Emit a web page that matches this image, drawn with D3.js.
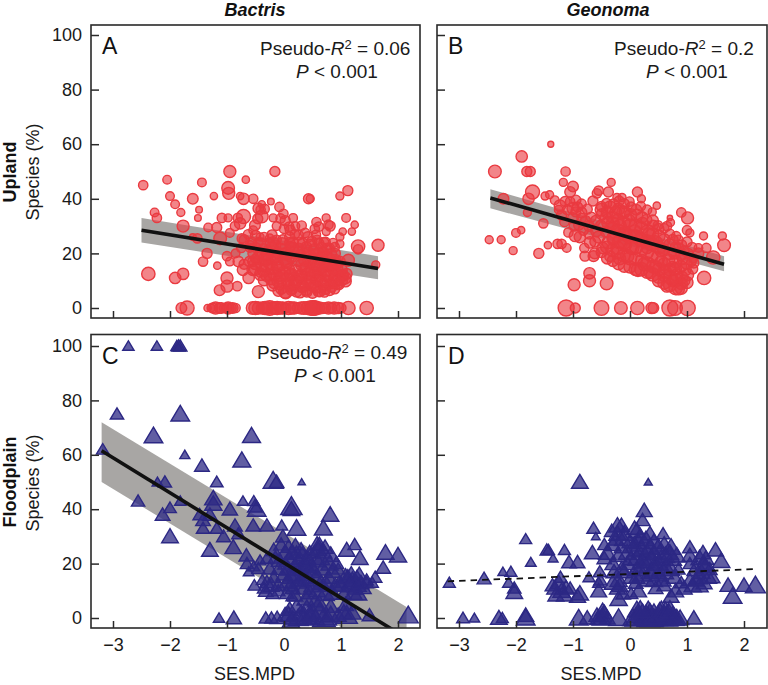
<!DOCTYPE html>
<html><head><meta charset="utf-8">
<script src="https://cdn.jsdelivr.net/npm/d3@7"></script>
<style>html,body{margin:0;padding:0;background:#fff}svg{display:block;font-family:"Liberation Sans",Arial,sans-serif}</style>
</head><body><svg id="c" width="768" height="685"></svg>
<script>
const yTicks=[0,20,40,60,80,100];
const xTicks=[-3,-2,-1,0,1,2];
const columns=["Bactris","Geonoma"];
const rows=["Upland","Floodplain"];
// each point: [SES.MPD, species %, plot weight]
const pointsA=[[-2.47,45,14],[-2.05,47,13],[-1.44,46,13],[-.67,47,11],[-.95,50,18],[-.16,50,15],[-2,41,13],[-1.91,38,13],[-1.6,40,16],[-1.23,41,11],[-.98,44,19],[-.97,42,18],[-1.81,35,12],[-2.27,35,13],[-2.23,33,14],[-1.49,36,10],[-1.51,33,10],[-1.77,30,18],[-1.6,26,10],[-1.52,25.5,14],[-1.35,20,15],[-1.42,17,14],[-1.17,15.5,11],[-2.38,12.5,20],[-1.91,11,17],[-1.77,12.5,17],[-1,11,18],[-1,8,18],[-1.13,6.5,16],[-.82,8,14],[-.45,6,18],[.98,41,12],[1.12,43,15],[.43,40,15],[.46,40,12],[1.09,33,13],[1.24,30.5,11],[1.19,28,11],[1.03,28,11],[.98,26,12],[.98,23.5,12],[1.3,22.5,20],[1.3,21.5,14],[1.65,23,18],[1.61,15.8,12],[1.13,17.5,18],[1.07,11,18],
[-.77,41,11],[-.71,40,17],[-.54,40,14],[-.39,38,11],[-.23,39,10],[-.08,37,14],[-.45,36.5,16],[-.71,33.5,21],[-.39,33.5,19],[-1.09,33,14],[-.98,33,12],[-.77,31,17],[-.19,33,12],[-.01,34.5,14],[.16,33,13],[.02,32,15],[.54,29,14],[.57,31.5,14],[.74,33,12],[.81,30,15],[.78,30.5,14],[.74,28,12],[-.54,28.5,13],[-.13,30,13],[-1.33,29.5,13],[-1.18,29.5,15],[-.95,27.5,13],[-1.12,25.5,19],[-.74,25.5,14],[-.42,26,12],[-.25,25.5,13],[-.13,25,14],[.11,28.5,15],[.37,27.5,14],[.19,27,14],[-1.0,19,14],[-.95,17,13],[-.85,20,13],[-.8,17,16],[-.75,22,14],[-.7,25,15],[-.55,17,15],[-.6,22,13],[-.45,24,14],[-.35,26,14],[-.25,24,14],[0,29,14],[.1,24,15],[.2,30,13],
[-.6,17,16],[-.72,14,17],[-.7,16,15],[-.62,11,17],[-.55,14,17],[-.5,18,14],[-.42,13,14],[-.35,18,17],[-.3,15,17],[-.28,21,15],[-.25,12,17],[-.2,18,19],[-.18,9,15],[-.15,23,16],[-.12,15,18],[-.1,20,17],[-.08,11,18],[-.05,7,16],[-.02,25,15],[0,13,19],[.02,6,20],[.04,17,17],[.06,20,18],[.08,9,17],[.1,26,15],[.12,12,18],[.15,7,15],[.16,22,17],[.2,10,19],[.22,6,16],[.25,17,15],[.27,24,16],[.3,12,17],[.33,8,18],[.35,20,15],[.38,15,16],[.4,6,16],[.42,26,16],[.45,11,18],[.47,23,17],[.5,18,16],[.52,8,17],[.55,13,18],[.58,25,14],[.6,6,15],[.62,20,16],[.65,10,17],[.68,15,18],[.7,24,15],[.72,7,16],[.75,19,15],[.78,12,18],[.8,22,14],[.82,9,16],[.85,16,17],[.88,11,17],[.9,20,15],[.93,14,18],[.95,9,15],[.98,17,16],[1.03,12,17],
[-1.8,0,16],[-1.7,0,21],[-1.34,0,11],[-1.25,0,15],[-1.2,0,18],[-1.13,0,16],[-1.05,0,14],[-.98,0,18],[-.9,0,16],[-.85,0,14],[-.55,0,19],[-.45,0,18],[-.3,0,19],[-.25,0,22],[-.2,0,19],[-.12,0,20],[-.02,0,18],[.08,0,20],[.18,0,18],[.35,0,19],[.42,0,20],[.5,0,22],[.55,0,21],[.6,0,19],[.78,0,18],[.88,0,18],[.95,0,17],[1.13,0,20],[1.45,0,20],
[-.1,6.2,16],[.03,5.6,18],[.13,6.4,15],[.28,5.8,17],[.39,6.6,16],[.5,5.5,16],[.63,6.2,17],[.71,5.8,15],[.8,6.5,16],[.89,7,15],[-.2,8.3,17],[-.06,8.8,18],[.1,8,16],[.19,8.6,18],[.31,7.8,17],[.46,8.5,16],[.56,7.7,18],[.69,8.4,17],[.83,8,18],[.96,8.6,16],[-.35,10.2,17],[-.23,10.7,18],[-.11,9.7,17],[.06,10.5,19],[.21,10,18],[.3,10.8,17],[.43,9.6,19],[.58,10.4,18],[.73,10,18],[.88,9.5,17],[1.01,10.3,18],[1.08,9.8,17],[-.41,12.3,18],[-.31,11.7,16],[-.16,12.5,19],[-.03,11.8,18],[.13,12.4,18],[.26,11.6,17],[.41,12.5,18],[.51,11.8,18],[.63,12.3,19],[.76,11.7,18],[.91,12.4,17],[1.02,11.8,18],[1.1,12.5,16],[-.5,14.2,18],[-.36,13.6,17],[-.21,14.5,18],[-.09,13.8,18],[.09,14.3,16],[.21,13.7,18],[.36,14.4,17],[.49,13.6,18],[.61,14.3,18],[.73,13.8,19],[.86,14.2,17],[1.01,14,17],[-.51,16.2,17],[-.39,15.7,18],[-.26,16.4,17],[-.11,15.8,18],[.05,16.5,17],[.31,15.8,18],[.46,16.4,17],[.59,15.7,18],[.71,16.3,17],[.83,15.6,18],[.93,16.2,16],[-.46,18.3,17],[-.31,17.7,18],[-.16,18.4,17],[.01,17.8,18],[.13,18.5,16],[.36,17.7,18],[.51,18.4,16],[.63,17.8,17],[.79,18.3,16],[.91,17.6,16],[-.41,20.2,16],[-.29,19.7,18],[-.13,20.3,16],[.03,19.8,18],[.16,20.4,18],[.29,19.6,16],[.43,20.3,16],[.56,19.7,17],[.69,20.2,16],[.83,19.8,16],[-.5,22.2,15],[-.36,21.6,16],[-.21,22.3,16],[-.06,21.7,17],[.11,22.4,15],[.26,21.8,16],[.39,22.3,16],[.53,21.6,16],[.66,22.2,15],[.76,21.8,16],[.89,22.3,14],[-.56,24.2,14],[-.41,23.7,16],[-.19,24.3,15],[-.03,23.8,16],[.16,24.2,15],[.33,23.8,15],[.49,24.4,15],[.61,23.7,15],[.73,24.2,14],[.86,23.8,14],[-.63,27,14],[-.5,26.6,15],[-.21,26.8,15],[.26,26.7,14],[.56,26.8,14],[-.86,30,14],[-.51,30.3,16],[.09,29.8,14],[.31,30.2,14],[.61,29.8,14],[-.81,33,14],[-.46,32.7,15],[-.06,32.8,14],[-.41,36,14],[-.34,36.3,14],[-.6,23,14],[-.55,20,14],
[-1.28,0,12],[-1.1,0,16],[-1.0,0,15],[-.92,0,14],[-.5,0,20],[-.38,0,18],[-.33,0,20],[-.16,0,19],[-.06,0,18],[.03,0,16],[.14,0,18],[.24,0,16],[.3,0,18],[.47,0,21],[.52,0,22],[.66,0,17],[.72,0,16],[.83,0,16],[1.0,0,15]];
const pointsB=[[-1.39,60,9],[-1.9,55.5,17],[-2.37,50,19],[-1.81,50,15],[-1.75,50,15],[-1.13,50,14],[-1.17,46,12],[-1,44.5,16],[-1.05,42.5,16],[-1.71,42.5,21],[-1.78,40,17],[-2.22,40,16],[-1.49,41,12],[-1.41,41.5,12],[-1.32,39.5,13],[-1.23,37.5,17],[-1.14,39,15],[-1.8,35,12],[-1.52,31,14],[-1.91,28.5,11],[-2,27.5,13],[-2.47,25,12],[-2.26,25,12],[-2.05,21,12],[-1.6,20,15],[-1.44,23,11],[-1.27,23.5,14],[-1.2,23.5,14],[-1.11,22,13],[-1.08,27.7,14],[-.96,26.5,18],[-.98,8.5,18],[-.71,12.7,17],[-.71,10,18],[-.41,9,19],[-.79,19,15],[-.64,19,16],[-.33,46,12],[-.58,42,14],[-.38,42.5,15],[-.55,43,14],[-.23,40.5,12],[-.14,40.5,12],[.13,42.5,15],[.2,40,12],[.47,37.5,11],[.7,33,8],[.9,35,14],[1.01,33,18],[1,28.5,14],[1.05,27.5,12],[1.29,26.4,12],[1.62,26.4,12],[1.65,23,19],[1.34,22,14],[1.2,22,13],[1.46,18.5,20],[1.3,11,20],[.85,7,18],
[-1.05,39,14],[-.92,37,15],[-.85,33,14],[-1,33,16],[-1.2,34,15],[-.72,30,16],[-.72,27,14],[-.7,24,17],[-.5,36,19],[-.42,33,18],[-.35,37,18],[-.3,31,19],[-.25,35,18],[-.18,30,20],[-.12,35,19],[-.08,27,20],[-.02,32,19],[.02,37,15],[.08,28,20],[.12,34,18],[.18,25,20],[.22,31,18],[.3,36,14],[.33,27,19],[.4,32,17],[.45,24,20],[.5,29,16],[.55,21,19],[.6,25,18],[.65,30,14],[.7,20,18],[.75,25,16],[.8,17,19],[.85,22,16],[.92,18,16],[.97,14,18],[1.02,20,15],[1.08,17,14],
[-.55,26,18],[-.48,22,17],[-.42,28,17],[-.38,24,19],[-.35,19,16],[-.28,26,20],[-.22,22,20],[-.18,18,18],[-.1,24,20],[-.05,19,20],[0,15,18],[.04,22,20],[.1,18,20],[.14,14,20],[.2,21,18],[.25,16,20],[.3,22,17],[.35,13,18],[.38,19,19],[.45,15,19],[.5,10,18],[.55,17,18],[.6,12,19],[.65,8,18],[.7,14,19],[.75,10,18],[.82,12,19],[.9,9,18],[.95,10,17],[.6,16,19],[.75,15,17],
[-1.12,0,24],[-.96,0,15],[-.5,0,22],[-.16,0,19],[.13,0,20],[.38,0,17],[.41,0,16],[.7,0,24],[.79,0,22],[1.01,0,23],
[-.61,24.3,16],[-.59,28.2,17],[-.6,32.1,15],[-.5,20.4,16],[-.51,30.2,16],[-.49,34.3,17],[-.5,37.2,15],[-.4,18.2,17],[-.41,22.3,18],[-.39,31.3,18],[-.4,35.2,18],[-.41,38.3,15],[-.3,17.3,17],[-.31,21.2,19],[-.29,25.3,19],[-.3,29.2,18],[-.31,33.3,18],[-.29,38,16],[-.2,16.2,18],[-.21,20.3,19],[-.19,24.2,20],[-.2,28.2,20],[-.21,32.3,18],[-.2,36.2,18],[-.19,39.2,15],[-.1,15.3,18],[-.11,19.2,19],[-.09,23.2,20],[-.1,27.3,20],[-.11,31.2,19],[-.09,35.3,17],[-.1,38.2,15],[0,18.2,20],[.01,22.3,20],[-.01,26.2,20],[0,30.3,19],[.01,34.2,18],[-.01,39,14],[.1,14.2,19],[.11,22.3,20],[.09,26.2,20],[.1,30.2,19],[.11,36,16],[.2,14.2,20],[.21,17.3,19],[.19,25.2,20],[.2,29.3,19],[.21,33.2,17],[.19,37.3,14],[.3,13.2,19],[.31,16.3,20],[.29,20.2,20],[.3,24.3,20],[.31,28.2,19],[.29,32.3,16],[.4,12.3,20],[.41,15.2,20],[.39,23.3,20],[.4,27.2,18],[.41,30.3,15],[.39,35.2,12],[.5,11.3,18],[.51,14.2,19],[.49,18.3,20],[.5,22.2,20],[.51,26.3,18],[.49,30.3,14],[.6,9.2,19],[.61,13.3,20],[.59,21.3,18],[.6,29.2,14],[.7,8.3,19],[.71,11.2,20],[.69,23.3,16],[.7,27.2,14],[.71,31.3,12],[.8,7.3,20],[.81,10.2,20],[.79,14.3,19],[.8,22.2,16],[.81,26.3,14],[.9,7.2,18],[.91,11.3,18],[.89,15.2,18],[.9,19.3,16],[.91,23.2,14],[1,9.3,18],[1.01,12.2,18],[.99,16.3,17],[1.0,24.2,15],[1.1,14.3,15],[1.11,18.2,14],[1.09,22.3,14],[-.95,35.2,15],[-.85,38.2,14],[-.9,30.3,15],[-.75,36.2,15],[-.65,39.2,15],[-.68,33.3,15],[-.88,26,17],[-.8,22,14],[-.62,20,16],
[-1.1,36,15],[-1.0,36.5,18],[-.95,39.5,15],[-.85,35,16],[-1.25,36,13],[-1.15,31.5,14],[-.78,32,15],[-.82,28.5,15],[-.98,30,15],[1.2,20,16],[1.12,16.5,15],[.68,17.5,18],[.85,25,14],[.78,20,17],[.95,21,14]];
const pointsC=[[-2.73,100,17],[-2.23,100,17],[-1.88,100,18],[-1.82,100,20],[-1.85,100,20],[-2.93,75,20],[-1.82,75,28],[-2.29,67,28],[-.57,67,27],[-3.18,62,19],[-1.74,60,15],[-.74,58,27],[-1.44,56,22],[.31,50,11],[-1.18,50,19],[-2.09,50,20],[-2.22,50,16],[-.19,50.5,30],[-.13,50,22],[-1.24,44,26],[-1.24,42,26],[-2.56,43,20],[-1.82,43,17],[-.72,43,17],[-.53,43,18],[-2,40.5,19],[-2.13,38,22],[-.95,40,23],[-.48,40,28],[-.51,41,22],[.13,41,32],[.13,40,25],[.81,38,26],[-2,30,25],[-1.3,25,25],[.69,33,27],[.22,33,28],[-.04,34,18],[-.3,34,22],[-.54,34,22],[-.86,34,22],[-1.42,36,22],[-1.48,38,20],[-1.3,38,22],[-1.18,33,20],[-1.06,30,21],[-.89,26,25],[-.66,23,22],[-.8,31,20],[-1.42,33,20],
[1.1,25,25],[1.24,27,20],[1.33,22,25],[1.78,24,26],[2,23,26],[1.74,18.5,22],[1.6,15,20],[1.45,14,20],[2.18,1,30],[1.5,1,22],[1.1,1,32],[-1.14,0,17],[-.88,0,23],[-.32,0,20],[-.22,0,20],[-.12,0,22],[.15,0,24],[.25,0,30],[.35,0,26],[.45,0,24],[.55,0,28],[.7,0,34],[.76,0,28],[.12,-1,26],[.3,3,16],
[-.65,20,20],[-.62,17,16],[-.53,19,18],[-.52,12,19],[-.38,14,18],[-.32,10,22],[-.22,12,24],[-.18,15,20],[-.02,30,22],[-.3,22,20],[-.18,25,22],[-.05,27,22],[.02,24,26],[.1,22,24],[.2,27,20],[.22,24,22],[.28,18,26],[.18,16,26],[.3,14,24],[.42,22,24],[.48,19,26],[.52,24,20],[.62,27,24],[.65,22,26],[.72,26,24],[.8,20,26],[.55,15,24],[.65,13,26],[.78,15,24],[.72,9,28],[.9,12,24],[.02,20,22],[.08,18,24],[.4,16,24],[.5,12,26],[.14,8,18],[.15,11,22],[.95,18,20],[1.12,15,25],[1.2,14,26],[1.28,15,22],[1.35,13,24],[1.15,12,26],[1.05,9,22],[1.3,9,26],[1.08,5,24],[1.25,11,24],[.35,11,24],[-.1,18,22],
[.0,16.2,24],[.05,13.3,24],[.12,15.2,26],[.2,19.3,26],[.25,21.2,24],[.32,23.3,24],[.36,19.2,26],[.38,14.2,26],[.45,24.2,22],[.46,9.3,24],[.52,17.3,26],[.58,21.2,26],[.58,10.2,26],[.6,25.3,24],[.68,18.2,26],[.7,24.3,24],[.75,12.2,26],[.82,23.2,26],[.85,17.2,24],[.85,9.3,26],[.92,20.2,22],[.98,13.3,22],[1.0,12.2,24],[1.08,15.2,26],[1.18,16.2,24],[1.22,9.2,26],[1.32,16.2,22],[.25,13.2,24],[.12,12.2,24],[.05,9.2,22],[.2,8.3,22],[.38,7.2,26],[.55,6.3,24],[.62,5.2,28],[.82,4.3,24],[.4,4.2,22],[.22,4.3,24],[.1,3.2,24],[.5,2.3,26],[.62,2.3,30],[.82,1.2,28],[.95,1,24],[1.05,2,26],[1.2,2,26],[.35,1.2,26],[.45,1.2,28],[.02,1.2,24],[.08,1.2,26],[-.45,18.2,20],[-.42,21.2,18],[-.25,18.2,22],[-.3,13.2,22],[-.1,12.2,22],[-.15,22.2,22],[-.08,21.2,24],[.08,26.2,22],[.15,24.2,24],[.3,25.2,22],[.4,19.2,24],[.58,27.2,24],[-.35,11,20],[-.2,9,20],[-.1,10,20],[1.4,11,22],[1.45,13,20],[1.55,13,18],[1.15,13,24],[1.3,12,24]];
const pointsD=[[-.88,50,25],[.32,50,12],[.25,39.5,24],[-3.17,13,18],[-2.56,14.5,21],[-2.93,0,19],[-2.73,0,16],[-2.3,0,25],[-2.24,0,18],[-1.83,0,28],[-1.83,1,24],[-2.23,17,15],[-2.09,17,18],[-2.13,13,18],[-2.03,11,20],[-2.03,9.5,25],[-1.83,29,18],[-1.74,20.5,16],[-1.46,25,20],[-1.43,25,18],[-1.35,22,15],[-1.15,25,18],[-1.07,20.5,22],[-.92,20.5,22],[-.64,33,20],[-.6,30,13],[-.66,24,24],[-.72,15,18],[-1.22,15,20],[-1.32,11,24],[-1.3,8.5,24],[-1.2,10,26],[-1.12,11,24],[-.88,9,26],[-.53,17,20],[-.55,10,24],[-.55,13,18],[-.52,14,20],
[-.22,34,26],[-.15,34,24],[-.22,31,26],[-.12,29,26],[.12,32,26],[.22,36,22],[.35,31,24],[.58,31,20],[-.45,27,20],[-.3,27,24],[-.4,24,26],[-.15,26,22],[-.05,24,26],[.02,22,26],[.1,25,24],[.15,28,26],[.28,21,26],[.42,24,26],[.44,20,26],[.55,22,28],[.72,26,28],[.74,22,28],[.62,19,26],[.85,18,20],[1.05,26,22],[1.05,23,24],[-.05,20,24],[.2,19,26],[.35,17,26],[.5,16,26],[.78,15,24],[.9,13,20],[1.33,22,24],[1.32,19,26],[1.25,17,26],[1.2,15,26],[1.1,12,26],[1.3,13,24],[1.5,25,24],[1.6,21,26],[1.45,15,22],[1.72,12,24],[1.8,8,28],[2,12,24],[2.2,12,30],[-.2,14,26],[-.22,11,24],[-.12,9,22],[.1,13,22],[.02,9,20],[.15,10,24],[.45,11,22],[.72,8,24],[-.2,7,26],[.6,12,22],
[-.9,0,28],[-.75,0,24],[-.58,1,24],[-.48,1,26],[-.4,0,24],[-.2,0,30],[.15,1,28],[.2,0,24],[.32,3,28],[.32,0,34],[.5,1,28],[.62,3,26],[.68,2,28],[.72,0,28],[.82,0,28],[.42,0,30],[.25,0,28],[1.12,0,24],
[.08,33,24],[.18,30,26],[.28,29,26],[.42,28,26],[.6,27,26],[.7,24,26],[.08,27,26],[.2,25,28],[.3,24,28],[.35,26,28],[.5,26,28],[.62,23,28],[.82,23,26],[.12,22,28],[.22,21,28],[.38,22,28],[.5,20,28],[.6,17,28],[.72,18,26],[.12,18,26],[.22,16,26],[.42,18,28],[-.1,17,24],[.02,15,24],[.12,15,24],[.3,14,24],[.42,14,26],[.58,14,24],[-.3,13,26],[-.18,12,24],[-.28,17,24],[-.2,23,24],[-.25,29,24],[-.32,32,22],[-.1,31,26],[0,28,24],[-.45,22,22],[-.3,20,24],[-.15,18,24],[1.05,20,20],[1.22,22,26],[1.28,24,24],[1.15,18,26],[1.38,15,24],[1.22,12,26],[1.4,18,22],[1.3,20,26],[1.15,14,24],[1.05,14,22],[.95,11,24],[.8,10,24],[.12,3,28],[.22,2,28],[.35,2,30],[.48,0,30],[.58,0,30],[.65,0,32],[.75,1,28],[.55,3,28],[.42,2,28],[-.45,2,24],[-.5,0,28],[-.55,0,26],[-.48,3,22],[-1.36,12,22],[-1.25,13,24],[-1.15,8.5,24],[-1.05,11,20],[-.92,8,24],
[.05,0,30],[.1,0,32],[.28,1,32],[.38,0,34],[.52,2,32],[.6,1,32],[.7,3,30],[.78,0,30],[.88,0,26],[.18,3,30]];
const lineA=[[-2.5,28.5],[1.65,14.5]];
const bandA=[[-2.5,33,24],[1.65,19,10.5]];
const lineB=[[-2.45,40.3],[1.65,16]];
const bandB=[[-2.45,43.5,36.5],[1.65,19,13.5]];
const lineC=[[-3.2,61.5],[2.0,-5.5]];
const bandC=[[-3.2,72,50],[2.15,4,-18]];
const lineD=[[-3.2,13.5],[2.2,18]];

const svg=d3.select("#c");
const ink="#2a2a2a";
const weight=d3.scaleLinear().domain([0,21]).range([0,7]);
const triWeight=d3.scaleLinear().domain([0,30]).range([0,10]);
const panels=[
 {k:"A",l:91,r:420,t:25,b:318,x0:284,y100:35,y0:308,pts:pointsA,line:lineA,band:bandA,shape:"c",top:"Pseudo-",r2:" = 0.06",ty:55,tx:260,px:296,py:78},
 {k:"B",l:437,r:767,t:25,b:318,x0:630,y100:35,y0:308,pts:pointsB,line:lineB,band:bandB,shape:"c",top:"Pseudo-",r2:" = 0.2",ty:55,tx:614,px:646,py:78},
 {k:"C",l:91,r:420,t:334.5,b:628,x0:284,y100:346,y0:618,pts:pointsC,line:lineC,band:bandC,shape:"t",top:"Pseudo-",r2:" = 0.49",ty:359,tx:257,px:294,py:382},
 {k:"D",l:437,r:767,t:334.5,b:628,x0:630,y100:346,y0:618,pts:pointsD,line:lineD,band:null,shape:"t",dash:true}
];
panels.forEach((p,i)=>{
 const x=d3.scaleLinear().domain([-1,1]).range([p.x0-57,p.x0+57]);
 const y=d3.scaleLinear().domain([0,100]).range([p.y0,p.y100]);
 const g=svg.append("g");
 const id="clip"+p.k;
 g.append("clipPath").attr("id",id).append("rect").attr("x",p.l).attr("y",p.t).attr("width",p.r-p.l).attr("height",p.b-p.t);
 const plot=g.append("g").attr("clip-path",`url(#${id})`);
 if(p.band){
  const area=d3.area().x(d=>x(d[0])).y0(d=>y(d[2])).y1(d=>y(d[1]));
  plot.append("path").attr("d",area(p.band)).attr("fill","#a8a6a4");
 }
 if(p.shape==="c"){
  plot.selectAll("circle").data(p.pts).join("circle")
   .attr("cx",d=>x(d[0])).attr("cy",d=>y(d[1])).attr("r",d=>weight(d[2]))
   .attr("fill","#ea3a40").attr("fill-opacity",.62).attr("stroke","#ea3a40").attr("stroke-width",1.4);
 }else{
  plot.selectAll("path.tri").data(p.pts).join("path").attr("class","tri")
   .attr("d",d=>{const w=triWeight(d[2]),h=w*1.68,cx=x(d[0]),cy=y(d[1]);
     return `M${cx},${cy-h*.55}L${cx+w},${cy+h*.45}L${cx-w},${cy+h*.45}Z`;})
   .attr("fill","#2c2884").attr("fill-opacity",.75).attr("stroke","#2c2884").attr("stroke-width",1.4).attr("stroke-linejoin","miter");
 }
 const ln=d3.line().x(d=>x(d[0])).y(d=>y(d[1]));
 plot.append("path").attr("d",ln(p.line)).attr("fill","none").attr("stroke","#111")
  .attr("stroke-width",p.dash?1.8:3.6).attr("stroke-dasharray",p.dash?"6.5,5":null);
 const ax=g.append("g").attr("transform",`translate(0,${p.b})`).call(
   d3.axisBottom(x).tickValues(xTicks).tickSizeInner(-7).tickSizeOuter(0).tickPadding(p.k>"B"?10:0).tickFormat(p.k>"B"?d3.format("d"):""));
 const ay=g.append("g").attr("transform",`translate(${p.l},0)`).call(
   d3.axisLeft(y).tickValues(yTicks).tickSizeInner(-8).tickSizeOuter(0).tickPadding(9).tickFormat(i%2?"":d3.format("d")));
 [ax,ay].forEach(a=>{a.select(".domain").remove();
  a.selectAll("line").attr("stroke",ink).attr("stroke-width",1.5);
  a.selectAll("text").attr("font-size",18).attr("fill","#1a1a1a").attr("font-family",'"Liberation Sans",Arial,sans-serif');});
 g.append("rect").attr("x",p.l).attr("y",p.t).attr("width",p.r-p.l).attr("height",p.b-p.t)
  .attr("fill","none").attr("stroke",ink).attr("stroke-width",1.6);
 g.append("text").attr("x",p.l+11).attr("y",p.t+29).attr("font-size",23).attr("fill","#111").text(p.k);
 if(p.top){
  const t=g.append("text").attr("x",p.tx).attr("y",p.ty).attr("font-size",19).attr("fill","#1a1a1a");
  t.append("tspan").text(p.top);
  t.append("tspan").attr("font-style","italic").text("R");
  t.append("tspan").attr("font-size",13).attr("dy",-6).text("2");
  t.append("tspan").attr("dy",6).text(p.r2);
  const q=g.append("text").attr("x",p.px).attr("y",p.py).attr("font-size",19).attr("fill","#1a1a1a");
  q.append("tspan").attr("font-style","italic").text("P");
  q.append("tspan").text(" < 0.001");
 }
 if(p.k>"B") g.append("text").attr("x",(p.l+p.r)/2-1).attr("y",680).attr("text-anchor","middle").attr("font-size",18).attr("fill","#1a1a1a").text("SES.MPD");
});
columns.forEach((c,i)=>svg.append("text").attr("x",i?608:255).attr("y",16).attr("text-anchor","middle")
 .attr("font-size",18).attr("font-weight","bold").attr("font-style","italic").attr("fill","#111").text(c));
rows.forEach((r,i)=>{
 svg.append("text").attr("transform",`translate(16,${i?482:172}) rotate(-90)`).attr("text-anchor","middle")
  .attr("font-size",18).attr("font-weight","bold").attr("fill","#111").text(r);
 svg.append("text").attr("transform",`translate(39,${i?483:172}) rotate(-90)`).attr("text-anchor","middle")
  .attr("font-size",18).attr("fill","#1a1a1a").text("Species (%)");
});
</script></body></html>
